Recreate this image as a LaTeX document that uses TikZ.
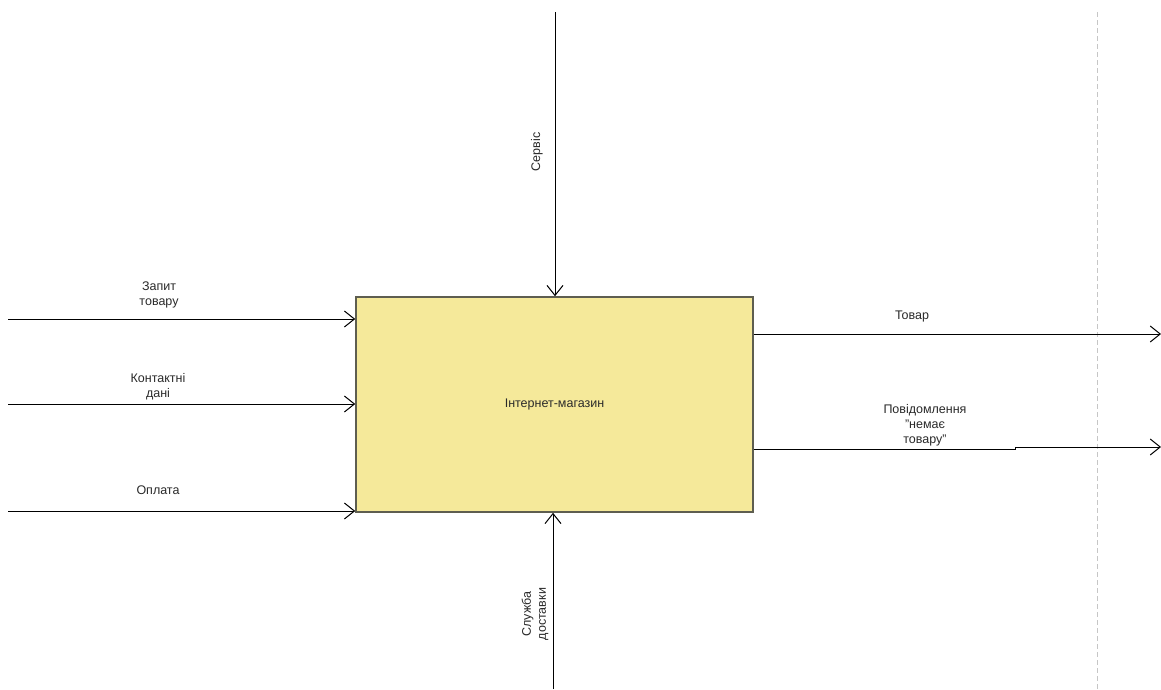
\documentclass[tikz,border=0pt]{standalone}
\usepackage{fontspec}
\setmainfont{Liberation Sans}
\usetikzlibrary{arrows.meta}
\definecolor{boxfill}{HTML}{F5E99A}
\definecolor{boxline}{HTML}{5E5E50}
\definecolor{txt}{HTML}{2A2A2A}
\tikzset{
  flow/.style={line width=1pt, -{Straight Barb[length=10pt,width=16pt,line width=1pt]}},
  lbl/.style={font=\fontsize{12.5}{15}\selectfont, text=txt, align=center, inner sep=0pt},
  func/.style={draw=boxline, line width=1.6pt, fill=boxfill, minimum width=397pt, minimum height=215pt, inner sep=0pt, font=\fontsize{12.5}{15}\selectfont, text=txt}
}
\begin{document}
\begin{tikzpicture}[x=1pt,y=-1pt]
\useasboundingbox (0,0) rectangle (1161,689);
\fill[white] (0,0) rectangle (1161,689);
% dashed boundary
\coordinate (d1) at (1097,12);
\coordinate (d2) at (1097,689);
\draw[gray!45, line width=0.8pt, dash pattern=on 5pt off 3pt] (d1) -- (d2);
% box
\node[func] (box) at (554.5,404.5) {Інтернет-магазин};
% inputs
\coordinate (in1) at (8,319);
\coordinate (in2) at (8,404);
\coordinate (in3) at (8,511);
\draw[flow] (in1) -- (in1 -| box.west);
\draw[flow] (in2) -- (in2 -| box.west);
\draw[flow] (in3) -- (in3 -| box.west);
\node[lbl] (l1) at (159,295) {Запит\\товару};
\node[lbl] (l2) at (158,387) {Контактні\\дані};
\node[lbl] (l3) at (158,490) {Оплата};
% outputs
\coordinate (o1) at (1161,334);
\coordinate (o2a) at (1015,449);
\coordinate (o2b) at (1015,447);
\coordinate (o2) at (1161,447);
\draw[flow] (o1 -| box.east) -- (o1);
\draw[flow] (o2a -| box.east) -- (o2a) -- (o2b) -- (o2);
\node[lbl] (r1) at (912,316) {Товар};
\node[lbl] (r2) at (925,425) {Повідомлення\\"немає\\товару"};
% control
\coordinate (c1) at (555,12);
\draw[flow] (c1) -- (c1 |- box.north);
\node[lbl, rotate=90] (cl) at (537,152) {Сервіс};
% mechanism
\coordinate (m1) at (553,689);
\draw[flow] (m1) -- (m1 |- box.south);
\node[lbl, rotate=90] (ml) at (535,614) {Служба\\доставки};
\end{tikzpicture}
\end{document}
